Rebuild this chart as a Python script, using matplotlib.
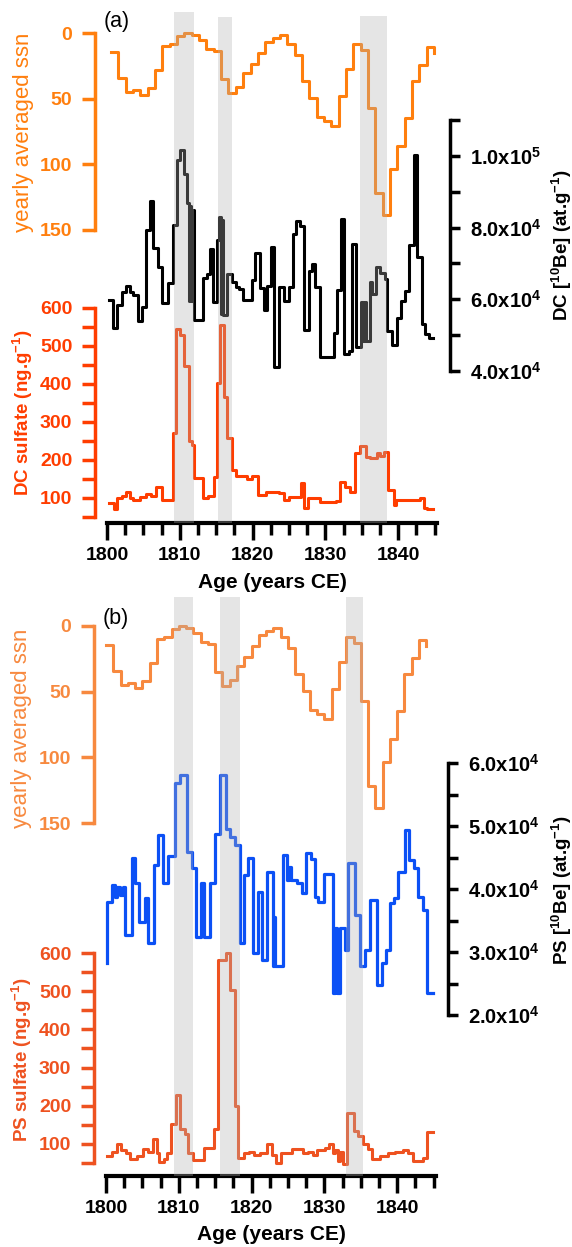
"""
Solar activity, 10Be and volcanic sulfate records, 1800-1845
(a) DC ice core, (b) PS ice core
"""

import numpy as np
import matplotlib
matplotlib.use('Agg')
import matplotlib.pyplot as plt
from matplotlib.ticker import FixedLocator, MultipleLocator, FuncFormatter

plt.rcParams['font.family'] = 'Liberation Sans'
plt.rcParams['font.weight'] = 'bold'
plt.rcParams['mathtext.fontset'] = 'custom'
plt.rcParams['mathtext.rm'] = 'Liberation Sans:bold'
plt.rcParams['mathtext.bf'] = 'Liberation Sans:bold'
plt.rcParams['mathtext.it'] = 'Liberation Sans:bold:italic'
plt.rcParams['mathtext.default'] = 'bf'


# =============================================================================
# DATA
# =============================================================================

# yearly averaged sunspot number
ssn_years = np.arange(1800, 1845)
ssn = [14.5, 34.0, 45.0, 43.1, 47.5, 42.2, 28.1, 10.1, 8.1, 2.5,
       0.0, 1.4, 5.0, 12.2, 13.9, 35.4, 45.8, 41.1, 30.1, 23.9,
       15.6, 6.6, 4.0, 1.8, 8.5, 16.6, 36.3, 49.6, 64.2, 67.0,
       70.9, 47.8, 27.5, 8.5, 13.2, 56.9, 121.5, 138.3, 103.2, 85.7,
       64.6, 36.7, 24.2, 10.7, 15.0]

# DC [10Be] (x1000 at.g-1)
dc_be_years = [1800.3, 1800.87, 1801.42, 1802.02, 1802.61, 1803.16, 1803.62, 1804.31, 1804.77, 1805.32,
               1805.91, 1806.37, 1807.06, 1807.52, 1808.44, 1809.03, 1809.58, 1810.04, 1810.59, 1811.05,
               1811.3, 1811.45, 1811.6, 1811.75, 1811.97, 1813.25, 1813.71, 1814.17, 1814.62, 1815.08,
               1815.45, 1815.7, 1815.85, 1816.0, 1816.55, 1817.15, 1817.74, 1818.2, 1818.75, 1819.9,
               1820.36, 1820.95, 1821.5, 1821.97, 1822.52, 1822.97, 1823.56, 1824.25, 1824.94, 1825.54,
               1826.0, 1826.55, 1827.0, 1827.69, 1828.15, 1828.61, 1829.2, 1831.13, 1831.59, 1832.14,
               1832.6, 1833.19, 1833.66, 1834.25, 1834.9, 1835.2, 1835.4, 1835.6, 1836.07, 1836.4,
               1837.0, 1837.55, 1838.24, 1838.47, 1839.16, 1839.85, 1840.4, 1840.99, 1841.45, 1842.13,
               1842.6, 1843.29, 1843.74, 1844.2, 1844.8]
dc_be = [59.7, 51.9, 58.5, 62.0, 63.6, 62.0, 61.3, 53.9, 57.8, 79.4,
         87.4, 74.3, 69.1, 59.0, 64.5, 80.8, 98.8, 101.6, 95.0, 86.9,
         59.4, 86.0, 59.4, 85.0, 54.2, 65.9, 67.0, 74.1, 59.2, 76.6,
         83.0, 56.0, 82.0, 55.5, 67.0, 64.7, 63.5, 62.9, 59.7, 65.4,
         72.8, 63.1, 57.1, 63.8, 74.7, 41.0, 63.3, 59.4, 63.5, 78.3,
         81.9, 80.3, 51.4, 67.9, 69.8, 63.3, 44.0, 50.6, 62.7, 82.4,
         44.7, 45.5, 75.5, 46.7, 59.3, 48.4, 59.3, 48.4, 64.8, 61.5,
         69.0, 67.3, 65.7, 51.1, 47.2, 54.9, 59.5, 62.3, 75.0, 100.3,
         71.7, 53.0, 50.3, 49.1, 49.1]

# DC sulfate (ng.g-1)
dc_so4_years = [1800.3, 1800.9, 1801.42, 1802.0, 1802.6, 1803.2, 1803.6, 1804.5, 1805.4, 1806.1,
                1806.7, 1807.5, 1809.0, 1809.5, 1810.04, 1810.6, 1811.2, 1811.65, 1812.0, 1813.25,
                1813.9, 1814.7, 1815.1, 1815.55, 1816.1, 1816.55, 1817.15, 1817.7, 1819.2, 1819.9,
                1820.8, 1821.9, 1823.56, 1824.35, 1824.94, 1826.6, 1827.05, 1827.67, 1829.3, 1831.4,
                1832.0, 1832.7, 1833.4, 1834.1, 1834.8, 1835.6, 1836.1, 1837.1, 1837.5, 1838.0,
                1838.55, 1839.4, 1839.7, 1843.05, 1843.5, 1843.95, 1844.8]
dc_so4 = [88, 72, 99, 105, 117, 100, 96, 103, 110, 105,
          130, 94, 270, 546, 530, 447, 250, 240, 153, 100,
          105, 155, 403, 555, 365, 257, 174, 158, 150, 157,
          108, 115, 112, 95, 103, 140, 73, 99, 90, 93,
          143, 128, 117, 218, 238, 209, 205, 219, 210, 220,
          121, 82, 95, 100, 73, 72, 72]

# PS [10Be] (x1000 at.g-1)
ps_be_years = [1800.15, 1800.18, 1800.78, 1801.2, 1801.5, 1801.9, 1802.3, 1802.61, 1803.53, 1803.98,
               1804.58, 1805.36, 1805.82, 1806.59, 1807.19, 1807.88, 1808.56, 1809.48, 1810.16, 1811.17,
               1811.77, 1812.35, 1813.0, 1813.4, 1814.3, 1814.97, 1815.66, 1816.48,
               1817.03, 1817.72, 1818.41, 1818.96, 1819.55, 1820.24, 1820.93, 1821.39, 1822.07, 1822.98,
               1823.1, 1823.2, 1824.27, 1824.82, 1825.1, 1825.4, 1826.2, 1826.88, 1827.47, 1828.12,
               1828.71, 1829.16, 1829.95, 1831.23, 1831.5, 1831.7, 1832.14, 1832.83, 1833.29, 1834.2,
               1834.89, 1835.58, 1836.26, 1837.27, 1837.87, 1838.46, 1839.01, 1839.5, 1840.16, 1841.07,
               1841.67, 1842.31, 1842.9, 1843.5, 1844.13, 1844.96]
ps_be = [28.2, 38.0, 40.6, 38.7, 40.3, 39.0, 40.3, 32.7, 44.9, 40.9,
         34.8, 38.5, 31.4, 43.8, 48.6, 40.9, 45.2, 56.8, 58.1, 45.9,
         43.3, 32.4, 40.9, 32.4, 41.0, 48.8, 58.1, 49.6,
         48.3, 47.0, 31.4, 42.2, 44.9, 29.8, 39.6, 28.7, 42.7, 27.7,
         35.5, 27.7, 45.4, 41.4, 43.5, 41.4, 41.0, 39.3, 45.7, 44.7,
         38.8, 38.0, 42.4, 23.5, 33.8, 23.5, 33.8, 30.3, 44.2, 35.9,
         27.7, 30.3, 38.3, 24.8, 28.2, 30.3, 37.8, 38.5, 42.7, 49.3,
         44.6, 43.3, 38.8, 36.7, 23.5, 23.5]

# PS sulfate (ng.g-1)
ps_so4_years = [1800.18, 1800.78, 1801.47, 1802.1, 1802.75, 1803.3, 1804.2, 1805.1, 1805.8, 1806.5,
                1806.95, 1807.3, 1807.9, 1808.4, 1808.87, 1809.6, 1810.2, 1810.85, 1811.3, 1812.0,
                1813.5, 1814.3, 1814.85, 1815.4, 1816.5, 1817.06, 1817.7, 1818.17, 1818.9, 1819.6,
                1820.3, 1821.15, 1822.07, 1822.75, 1823.3, 1824.0, 1825.5, 1827.1, 1827.7, 1828.5,
                1829.0, 1830.1, 1830.7, 1831.2, 1831.5, 1831.9, 1832.2, 1832.5, 1833.06, 1834.07,
                1834.66, 1835.34, 1836.0, 1836.5, 1837.6, 1838.8, 1839.7, 1840.85, 1841.5, 1842.2,
                1843.6, 1844.13, 1844.96]
ps_so4 = [68, 80, 99, 85, 75, 60, 68, 86, 80, 112,
          75, 53, 60, 75, 153, 228, 140, 125, 75, 57,
          88, 90, 140, 582, 600, 503, 200, 64, 75, 80,
          70, 75, 99, 70, 50, 75, 86, 75, 80, 70,
          85, 90, 99, 75, 85, 55, 80, 47, 182, 134,
          121, 99, 86, 60, 68, 75, 80, 85, 75, 55,
          64, 130, 130]

# shaded volcanic periods
bands_a = [(1809.2, 1811.9), (1815.3, 1817.2), (1834.7, 1838.5)]
bands_b = [(1809.3, 1811.9), (1815.6, 1818.4), (1833.0, 1835.3)]


# =============================================================================
# LAYOUT HELPERS (pixel based)
# =============================================================================

W, H = 572, 1247
PT = 0.72  # points per pixel at dpi 100
LW = 2.5


def rect(x0, y_top, x1, y_bot):
    return [x0 / W, 1 - y_bot / H, (x1 - x0) / W, (y_bot - y_top) / H]


def ftext(fig, x, y, s, **kw):
    fig.text(x / W, 1 - y / H, s, ha='center', va='center', **kw)


def left_axis(fig, r, color, offset_px, xlim):
    ax = fig.add_axes(r)
    ax.patch.set_visible(False)
    for s in ['top', 'right', 'bottom']:
        ax.spines[s].set_visible(False)
    ax.spines['left'].set_position(('outward', offset_px * PT))
    ax.spines['left'].set_color(color)
    ax.spines['left'].set_linewidth(LW)
    ax.tick_params(axis='y', which='both', colors=color, width=LW,
                   length=13 * PT, pad=7, labelsize=14)
    ax.xaxis.set_visible(False)
    ax.set_xlim(*xlim)
    return ax


def right_axis(fig, r, offset_px, xlim):
    ax = fig.add_axes(r)
    ax.patch.set_visible(False)
    for s in ['top', 'left', 'bottom']:
        ax.spines[s].set_visible(False)
    ax.spines['right'].set_position(('outward', offset_px * PT))
    ax.spines['right'].set_linewidth(LW)
    ax.yaxis.tick_right()
    ax.tick_params(axis='y', which='both', colors='black', width=LW,
                   length=10 * PT, pad=7, labelsize=14.5)
    ax.xaxis.set_visible(False)
    ax.set_xlim(*xlim)
    return ax


def sci_fmt(v, pos):
    e = int(np.floor(np.log10(v)))
    return f'{v / 10 ** e:.1f}x10$^{{{e}}}$'


def base_axis(fig, r, xlim, bands, tops):
    ax = fig.add_axes(r)
    ax.patch.set_visible(False)
    ax.set_zorder(10)
    for s in ['top', 'left', 'right']:
        ax.spines[s].set_visible(False)
    ax.spines['bottom'].set_linewidth(LW + 0.5)
    ax.set_xlim(*xlim)
    ax.set_ylim(0, 1)
    ax.set_yticks([])
    ax.xaxis.set_major_locator(MultipleLocator(10))
    ax.xaxis.set_minor_locator(MultipleLocator(2.5))
    ax.tick_params(axis='x', which='major', width=LW, length=17 * PT, pad=5, labelsize=14)
    ax.tick_params(axis='x', which='minor', width=LW, length=12 * PT)
    for (b0, b1), top in zip(bands, tops):
        ax.axvspan(b0, b1, ymin=0, ymax=top, color=(0.7, 0.7, 0.7), alpha=0.33,
                   lw=0, zorder=20)
    return ax


XLIM = (1800, 1845.33)

fig = plt.figure(figsize=(W / 100, H / 100), dpi=100)

# =============================================================================
# PANEL (a)
# =============================================================================

c_ssn_a, c_so4_a = '#ff7f0e', '#ff3d00'

ax = left_axis(fig, rect(107, 33, 437, 230), c_ssn_a, 12, (1799.455, 1844.40))
ax.step(ssn_years, ssn, where='post', color=c_ssn_a, lw=2.2, clip_on=False)
ax.set_ylim(150, 0)
ax.set_yticks([0, 50, 100, 150])

ax = right_axis(fig, rect(107, 120, 437, 371), 13, XLIM)
ax.step(dc_be_years, np.array(dc_be) * 1e3, where='post', color='black', lw=2.2, clip_on=False)
ax.set_ylim(4e4, 1.1e5)
ax.yaxis.set_major_locator(FixedLocator([4e4, 6e4, 8e4, 1e5]))
ax.yaxis.set_minor_locator(FixedLocator([5e4, 7e4, 9e4, 1.1e5]))
ax.yaxis.set_major_formatter(FuncFormatter(sci_fmt))

ax = left_axis(fig, rect(107, 308, 437, 517), c_so4_a, 12, XLIM)
ax.step(dc_so4_years, dc_so4, where='post', color=c_so4_a, lw=2.2, clip_on=False)
ax.set_ylim(50, 600)
ax.yaxis.set_major_locator(MultipleLocator(100))
ax.yaxis.set_minor_locator(FixedLocator(np.arange(50, 600, 100)))

base_axis(fig, rect(107, 12, 437, 523), XLIM, bands_a,
          [(523 - t) / 511 for t in (12, 17, 16)])

ftext(fig, 117, 22, '(a)', fontsize=15.5, fontweight='normal')
ftext(fig, 24, 132, 'yearly averaged ssn', rotation=90, fontsize=16,
      fontweight='normal', color=c_ssn_a)
ftext(fig, 23, 413, 'DC sulfate (ng.g$^{-1}$)', rotation=90, fontsize=13.5, color=c_so4_a)
ftext(fig, 562, 245, 'DC [$^{10}$Be] (at.g$^{-1}$)', rotation=90, fontsize=13.5)
ftext(fig, 272, 583, 'Age (years CE)', fontsize=15)

# =============================================================================
# PANEL (b)
# =============================================================================

c_ssn_b, c_be_b, c_so4_b = '#f7893f', '#0b50f5', '#ee5220'

ax = left_axis(fig, rect(106, 626, 436, 823), c_ssn_b, 12, XLIM)
ax.step(ssn_years, ssn, where='post', color=c_ssn_b, lw=2.2, clip_on=False)
ax.set_ylim(150, 0)
ax.set_yticks([0, 50, 100, 150])

ax = right_axis(fig, rect(106, 763, 436, 1015), 12, XLIM)
ax.step(ps_be_years, np.array(ps_be) * 1e3, where='post', color=c_be_b, lw=2.3, clip_on=False)
ax.set_ylim(2e4, 6e4)
ax.yaxis.set_major_locator(FixedLocator([2e4, 3e4, 4e4, 5e4, 6e4]))
ax.yaxis.set_minor_locator(FixedLocator([2.5e4, 3.5e4, 4.5e4, 5.5e4]))
ax.yaxis.set_major_formatter(FuncFormatter(sci_fmt))

ax = left_axis(fig, rect(106, 953, 436, 1163), c_so4_b, 12, XLIM)
ax.step(ps_so4_years, ps_so4, where='post', color=c_so4_b, lw=2.2, clip_on=False)
ax.set_ylim(50, 600)
ax.yaxis.set_major_locator(MultipleLocator(100))
ax.yaxis.set_minor_locator(FixedLocator(np.arange(50, 600, 100)))

base_axis(fig, rect(106, 597, 436, 1176), XLIM, bands_b, [1, 1, 1])

ftext(fig, 116, 618, '(b)', fontsize=15.5, fontweight='normal')
ftext(fig, 22, 728, 'yearly averaged ssn', rotation=90, fontsize=16,
      fontweight='normal', color=c_ssn_b)
ftext(fig, 22, 1060, 'PS sulfate (ng.g$^{-1}$)', rotation=90, fontsize=13.5, color=c_so4_b)
ftext(fig, 562, 890, 'PS [$^{10}$Be] (at.g$^{-1}$)', rotation=90, fontsize=13.5)
ftext(fig, 271, 1235, 'Age (years CE)', fontsize=15)

fig.savefig('out.png', dpi=100)
